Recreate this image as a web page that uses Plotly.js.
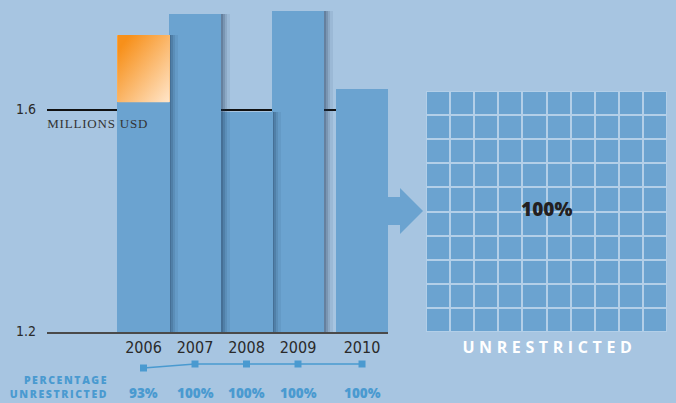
<!DOCTYPE html>
<html>
<head>
<meta charset="utf-8">
<script src="https://cdn.plot.ly/plotly-3.0.1.min.js"></script>
<style>
  html, body { margin: 0; padding: 0; background: #a7c5e1; }
  #chart { width: 676px; height: 403px; }
  g.annotation[data-index="1"] text { letter-spacing: 0.8px; }
  g.annotation[data-index="2"] text { letter-spacing: 4.6px; }
  g.annotation[data-index="3"] text { letter-spacing: 1.6px; }
</style>
</head>
<body>
<div id="chart"></div>
<script>
// ---- data ----
const years = [2006, 2007, 2008, 2009, 2010];
const totalMillions = [1.735, 1.773, 1.596, 1.778, 1.638];
const pctUnrestricted = [93, 100, 100, 100, 100];
const yTickVals = [1.2, 1.6];
const yTickText = ['1.2', '1.6'];
const unitLabel = 'MILLIONS USD';
const gridLabel = 'UNRESTRICTED';
const pctLabel = 'PERCENTAGE<br>UNRESTRICTED';

// ---- styling / layout helpers ----
const BG = '#a7c5e1';
const BAR = '#6ba3d0';
const ORANGE = '#f7931e';
const PCT_BLUE = '#4a9ad0';
const W = 676, H = 403;
const px = v => v / W;
const py = v => 1 - v / H;
const BOLDFONT = '"Open Sans", Lato, sans-serif';

// bar centre positions: consecutive years adjacent, extra gap before last year
const xs = years.map((y, i) => i + (i === years.length - 1 ? 0.243 : 0));
const barW = 1.02;
const unrestricted = totalMillions.map((t, i) => t * pctUnrestricted[i] / 100);

const traces = [];
// draw from last year to first so each bar's shadow falls on its right neighbour
for (let i = years.length - 1; i >= 0; i--) {
  [[0.16, 'rgba(30,55,85,0.08)'], [0.11, 'rgba(30,55,85,0.12)'], [0.065, 'rgba(30,55,85,0.17)'], [0.03, 'rgba(30,55,85,0.22)']].forEach(([off, col]) => {
    traces.push({
      type: 'bar', x: [xs[i]], y: [totalMillions[i] - 1.2], base: 1.2,
      width: barW, offset: -barW / 2 + off,
      marker: { color: col, line: { width: 0 } },
      hoverinfo: 'skip', showlegend: false
    });
  });
  traces.push({
    type: 'bar', x: [xs[i]], y: [unrestricted[i] - 1.2], base: 1.2,
    width: barW, offset: -barW / 2,
    marker: { color: BAR, line: { width: 0 } },
    name: 'Unrestricted ' + years[i], showlegend: false
  });
  if (pctUnrestricted[i] < 100) {
    traces.push({
      type: 'bar', x: [xs[i]], y: [totalMillions[i] - unrestricted[i]], base: unrestricted[i],
      width: barW, offset: -barW / 2,
      marker: { color: '#fbb86a', line: { width: 0 } },
      name: 'Restricted ' + years[i], showlegend: false
    });
  }
}

// percentage unrestricted line
traces.push({
  type: 'scatter', mode: 'lines+markers', x: xs, y: pctUnrestricted,
  xaxis: 'x', yaxis: 'y3',
  line: { color: PCT_BLUE, width: 1.5 },
  marker: { symbol: 'square', size: 7, color: PCT_BLUE },
  showlegend: false, hoverinfo: 'skip'
});

// 10x10 grid for last year
const lastPct = pctUnrestricted[pctUnrestricted.length - 1];
const z = [];
for (let r = 0; r < 10; r++) {
  const row = [];
  for (let c = 0; c < 10; c++) row.push((r * 10 + c) < lastPct ? 1 : 0);
  z.push(row);
}
traces.push({
  type: 'heatmap', z: z, xaxis: 'x2', yaxis: 'y2',
  colorscale: [[0, ORANGE], [1, BAR]], zmin: 0, zmax: 1,
  showscale: false, xgap: 2, ygap: 2, hoverinfo: 'skip'
});

// gradient image for restricted portion
const gradSvg = "<svg xmlns='http://www.w3.org/2000/svg' width='100' height='100' preserveAspectRatio='none'>" +
  "<defs><linearGradient id='g' x1='0' y1='0' x2='1' y2='1'>" +
  "<stop offset='0.12' stop-color='#f7901a'/><stop offset='1' stop-color='#ffe6cb'/></linearGradient></defs>" +
  "<rect width='100' height='100' rx='2' ry='2' fill='url(#g)'/></svg>";
const images = [];
years.forEach((y, i) => {
  if (pctUnrestricted[i] < 100) {
    images.push({
      source: 'data:image/svg+xml;charset=utf-8,' + encodeURIComponent(gradSvg),
      xref: 'x', yref: 'y', x: xs[i] - barW / 2, y: totalMillions[i],
      sizex: barW, sizey: totalMillions[i] - unrestricted[i],
      xanchor: 'left', yanchor: 'top', sizing: 'stretch', layer: 'above'
    });
  }
});

const annotations = [
  { text: lastPct + '%', xref: 'x2', yref: 'y2', x: 4.5, y: 4.6, showarrow: false,
    font: { family: BOLDFONT, size: 19, color: '#231f20', weight: 800 } },
  { text: unitLabel, xref: 'paper', yref: 'paper', x: px(50), y: py(123), xanchor: 'left', yanchor: 'middle',
    showarrow: false, font: { family: '"Liberation Serif", "DejaVu Serif", serif', size: 13, color: '#333333' } },
  { text: gridLabel, xref: 'paper', yref: 'paper', x: px(549), y: py(347), xanchor: 'center', yanchor: 'middle',
    showarrow: false, font: { family: BOLDFONT, size: 16, color: '#ffffff', weight: 700 } },
  { text: pctLabel, xref: 'paper', yref: 'paper', x: px(110), y: py(387), xanchor: 'right', yanchor: 'middle',
    align: 'right', showarrow: false,
    font: { family: BOLDFONT, size: 10.5, color: PCT_BLUE, weight: 800 } }
];
years.forEach((y, i) => {
  annotations.push({
    text: pctUnrestricted[i] + '%', xref: 'x', yref: 'paper', x: xs[i], y: py(393),
    xanchor: 'center', yanchor: 'middle', showarrow: false,
    font: { family: BOLDFONT, size: 13.5, color: PCT_BLUE, weight: 800 }
  });
});

// arrow (pixel geometry)
const arrowPts = [[388, 197], [400, 197], [400, 188], [423, 211], [400, 234], [400, 225], [388, 225]];
const arrowPath = 'M ' + arrowPts.map(p => px(p[0]) + ',' + py(p[1])).join(' L ') + ' Z';

const shapes = [
  { type: 'rect', xref: 'x2', yref: 'y2', x0: -0.5, x1: 9.5, y0: -0.5, y1: 9.5,
    fillcolor: '#b3cfe8', line: { width: 0 }, layer: 'below' },
  { type: 'path', xref: 'paper', yref: 'paper', path: arrowPath,
    fillcolor: BAR, line: { width: 0 }, layer: 'above' }
];

const TICKFONT = '"Liberation Sans Narrow", "DejaVu Sans Condensed", "Liberation Sans", sans-serif';
const xUnitsPerPx = 1 / 51.5;
const layout = {
  width: W, height: H,
  margin: { l: 0, r: 0, t: 0, b: 0 },
  paper_bgcolor: BG, plot_bgcolor: BG,
  barmode: 'overlay', bargap: 0,
  showlegend: false,
  xaxis: {
    domain: [px(47), px(388)],
    range: [-(143.5 - 47) * xUnitsPerPx, (388 - 143.5) * xUnitsPerPx],
    tickvals: xs, ticktext: years.map(String),
    showgrid: false, zeroline: false, showline: true, linecolor: '#4a4a4a', linewidth: 1.5,
    ticks: '', ticklabelstandoff: 0,
    tickfont: { family: TICKFONT, size: 16, color: '#2a2a2a' },
    fixedrange: true, anchor: 'y'
  },
  yaxis: {
    domain: [1 - 332 / H, 1],
    range: [1.2, 1.2 + 332 / 555],
    tickvals: yTickVals, ticktext: yTickText,
    showgrid: true, gridcolor: '#111111', gridwidth: 1.6,
    zeroline: false, showline: false, ticks: '', ticklabelstandoff: 10, ticklabelshift: -1,
    tickfont: { family: TICKFONT, size: 14, color: '#2a2a2a' },
    fixedrange: true, anchor: 'x'
  },
  yaxis3: {
    domain: [1 - 375 / H, 1 - 355 / H],
    range: [80.75, 115.75], visible: false, anchor: 'x', fixedrange: true
  },
  xaxis2: { domain: [px(426), px(667)], range: [-0.5, 9.5], visible: false, anchor: 'y2', fixedrange: true },
  yaxis2: { domain: [1 - 332 / H, 1 - 91 / H], range: [-0.5, 9.5], visible: false, anchor: 'x2', fixedrange: true },
  annotations: annotations,
  shapes: shapes,
  images: images
};

Plotly.newPlot('chart', traces, layout, { displayModeBar: false, staticPlot: true });
</script>
</body>
</html>
